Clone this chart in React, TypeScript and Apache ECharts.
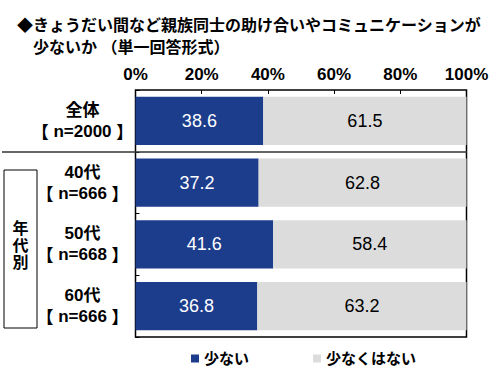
import React, { useEffect, useRef } from "react";
import * as echarts from "echarts";

const categories = ["全体\n【n=2000】", "40代\n【n=666】", "50代\n【n=668】", "60代\n【n=666】"];
const fewValues = [38.6, 37.2, 41.6, 36.8];
const notFewValues = [61.5, 62.8, 58.4, 63.2];
const seriesNames = ["少ない", "少なくはない"];
const xTicks = [0, 20, 40, 60, 80, 100];

const FONT = "'Liberation Sans', 'Noto Sans CJK JP', sans-serif";
const CJK = "'Noto Sans CJK JP', sans-serif";

export default function App() {
  const ref = useRef<HTMLDivElement>(null);
  useEffect(() => {
    if (!ref.current) return;
    const chart = echarts.init(ref.current, undefined, { renderer: "svg" });
    chart.setOption({
      animation: false,
      backgroundColor: "#ffffff",
      title: {
        text: "◆きょうだい間など親族同士の助け合いやコミュニケーションが\n　少ないか （単一回答形式）",
        left: 12,
        top: 9,
        textStyle: { fontFamily: FONT, fontSize: 16, fontWeight: "bold", color: "#000", lineHeight: 22 },
      },
      legend: {
        left: 186,
        top: 346,
        itemWidth: 8,
        itemHeight: 8,
        itemGap: 64,
        icon: "rect",
        textStyle: { fontFamily: FONT, fontSize: 15, fontWeight: "bold", color: "#000" },
        data: seriesNames,
      },
      grid: {
        left: 135.5,
        right: 33.5,
        top: 90,
        bottom: 38,
        show: true,
        borderColor: "#000",
        borderWidth: 1.5,
        backgroundColor: "transparent",
      },
      xAxis: {
        type: "value",
        position: "top",
        min: 0,
        max: 100,
        interval: 20,
        axisLine: { show: false },
        axisTick: { show: true, inside: true, length: 4, lineStyle: { color: "#000" } },
        splitLine: { show: false },
        axisLabel: {
          margin: 7,
          fontFamily: FONT,
          fontSize: 17,
          fontWeight: "bold",
          color: "#000",
          formatter: (v: number) => (xTicks.includes(v) ? `${v}%` : ""),
        },
      },
      yAxis: {
        type: "category",
        inverse: true,
        data: categories,
        axisLine: { show: false },
        axisTick: { show: true, inside: true, length: 4, lineStyle: { color: "#000" } },
        axisLabel: {
          margin: 53,
          align: "center",
          fontFamily: FONT,
          fontSize: 17,
          fontWeight: "bold",
          color: "#000",
          lineHeight: 21,
          formatter: (v: string) => {
            const [a, b] = v.split("\n");
            const inner = b.replace("【", "").replace("】", "");
            return `${a}\n{br|【} ${inner} {br|】}`;
          },
          rich: {
            br: { fontFamily: CJK, fontSize: 17, fontWeight: "bold", color: "#000", lineHeight: 21 },
          },
        },
      },
      series: [
        {
          name: seriesNames[0],
          type: "bar",
          stack: "total",
          barCategoryGap: "22%",
          data: fewValues,
          itemStyle: { color: "#1c3c8c" },
          label: {
            show: true,
            position: "inside",
            fontFamily: FONT,
            fontSize: 18,
            color: "#fff",
            formatter: (p: any) => p.value.toFixed(1),
          },
        },
        {
          name: seriesNames[1],
          type: "bar",
          stack: "total",
          barCategoryGap: "22%",
          data: notFewValues,
          itemStyle: { color: "#dcdcdc" },
          label: {
            show: true,
            position: "inside",
            fontFamily: FONT,
            fontSize: 18,
            color: "#000",
            formatter: (p: any) => p.value.toFixed(1),
          },
        },
      ],
      graphic: [
        {
          type: "line",
          shape: { x1: 2, y1: 152, x2: 467, y2: 152 },
          style: { stroke: "#333", lineWidth: 1.5 },
          z: 10,
        },
        {
          type: "rect",
          shape: { x: 4, y: 170, width: 33, height: 158 },
          style: { fill: "none", stroke: "#000", lineWidth: 1 },
        },
        {
          type: "text",
          x: 20.5,
          y: 245,
          style: {
            text: "年\n代\n別",
            fontFamily: FONT,
            fontSize: 16,
            fontWeight: "bold",
            fill: "#000",
            align: "center",
            verticalAlign: "middle",
            lineHeight: 17,
          },
        },
      ],
    });
    return () => chart.dispose();
  }, []);
  return <div ref={ref} style={{ width: 500, height: 375, position: "absolute", left: 0, top: 0 }} />;
}
